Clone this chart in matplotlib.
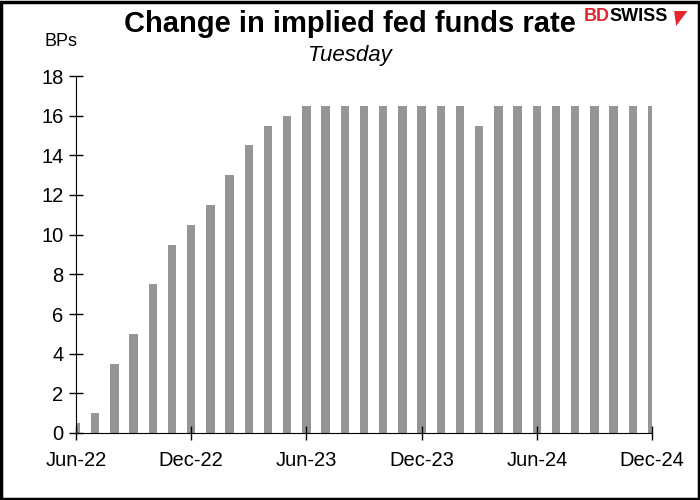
import matplotlib
matplotlib.use("Agg")
import matplotlib.pyplot as plt
from matplotlib.patches import Rectangle, Polygon

plt.rcParams['font.family'] = ['Liberation Sans', 'DejaVu Sans']

# monthly contracts Jun-22 .. Dec-24
months = ['Jun-22', 'Jul-22', 'Aug-22', 'Sep-22', 'Oct-22', 'Nov-22', 'Dec-22',
          'Jan-23', 'Feb-23', 'Mar-23', 'Apr-23', 'May-23', 'Jun-23',
          'Jul-23', 'Aug-23', 'Sep-23', 'Oct-23', 'Nov-23', 'Dec-23',
          'Jan-24', 'Feb-24', 'Mar-24', 'Apr-24', 'May-24', 'Jun-24',
          'Jul-24', 'Aug-24', 'Sep-24', 'Oct-24', 'Nov-24', 'Dec-24']
change_bps = [0.5, 1, 3.5, 5, 7.5, 9.5, 10.5, 11.5, 13, 14.5, 15.5, 16, 16.5,
              16.5, 16.5, 16.5, 16.5, 16.5, 16.5, 16.5, 16.5, 15.5, 16.5, 16.5,
              16.5, 16.5, 16.5, 16.5, 16.5, 16.5, 16.5]
tick_every = 6

fig = plt.figure(figsize=(7, 5), dpi=100)
ax = fig.add_axes([0.1086, 0.134, 0.8229, 0.714])

x = list(range(len(months)))
ax.bar(x, change_bps, width=0.44, color='#939598', zorder=1)

ax.set_xlim(0, len(months) - 1)
ax.set_ylim(0, 18)
ax.set_yticks(range(0, 19, 2))
ax.set_xticks(x[::tick_every])
ax.set_xticklabels(months[::tick_every])

for s in ['top', 'right']:
    ax.spines[s].set_visible(False)
ax.spines['left'].set_zorder(3)
ax.spines['bottom'].set_zorder(3)
ax.tick_params(axis='both', direction='inout', length=10, width=1,
               labelsize=14.5, colors='black')
ax.tick_params(axis='x', pad=8)
ax.tick_params(axis='y', pad=4)

fig.text(0.5, 0.953, 'Change in implied fed funds rate', ha='center', va='center',
         fontsize=21, fontweight='bold')
fig.text(0.5, 0.89, 'Tuesday', ha='center', va='center', fontsize=16, style='italic')
fig.text(0.087, 0.916, 'BPs', ha='center', va='center', fontsize=13)

# logo
fig.text(0.834, 0.967, 'BD', ha='left', va='center', fontsize=13,
         fontweight='bold', color='#e3262d')
fig.text(0.871, 0.967, 'SWISS', ha='left', va='center', fontsize=13,
         fontweight='bold', color='black')
fig.patches.append(Polygon([(0.963, 0.978), (0.982, 0.978), (0.966, 0.948)],
                           closed=True, transform=fig.transFigure,
                           facecolor='#e3262d', edgecolor='none'))

fig.patches.append(Rectangle((0.002, 0.003), 0.996, 0.994, transform=fig.transFigure,
                             fill=False, edgecolor='black', linewidth=2.5))

fig.savefig('out.png', dpi=100)
